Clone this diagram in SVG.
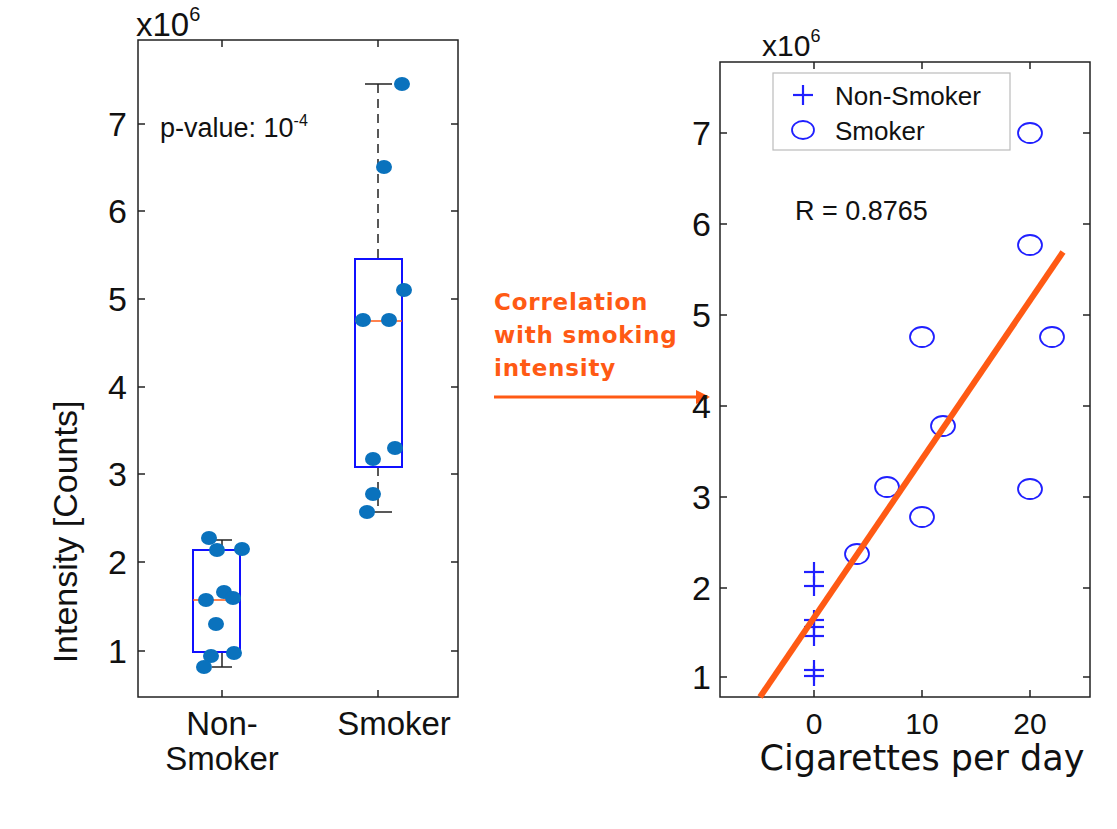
<svg xmlns="http://www.w3.org/2000/svg" width="1117" height="829" viewBox="0 0 1117 829">
<style>
.t{font-family:"Liberation Sans",Arial,sans-serif;fill:#111}
.ax{font-size:34px}
.frame{fill:none;stroke:#222;stroke-width:1.5}
.tick{stroke:#222;stroke-width:1.5}
.box{fill:none;stroke:#1010ff;stroke-width:2}
.med{stroke:#ff5a14;stroke-width:1.5}
.dot{fill:#0a72bd}
.circ{fill:none;stroke:#2020ff;stroke-width:1.8}
.plus{stroke:#2020ff;stroke-width:2.2}
.or{font-family:"DejaVu Sans",Verdana,sans-serif;font-weight:bold;font-size:23px;letter-spacing:0.8px;fill:#ff5a14}
</style>
<defs>
<marker id="ah" markerWidth="14" markerHeight="14" refX="12" refY="7" orient="auto" markerUnits="userSpaceOnUse" viewBox="0 0 14 14"><path d="M0,0 L14,7 L0,14 Z" fill="#ff5a14"/></marker>
<g id="pl"><line x1="-10" y1="0" x2="10" y2="0"/><line x1="0" y1="-10" x2="0" y2="10"/></g>
</defs>
<rect width="1117" height="829" fill="#fff"/>
<g id="left-plot">
<rect class="frame" x="138" y="40" width="320" height="657"/>
<g class="tick">
<line x1="138" y1="124" x2="145" y2="124"/><line x1="451" y1="124" x2="458" y2="124"/>
<line x1="138" y1="211" x2="145" y2="211"/><line x1="451" y1="211" x2="458" y2="211"/>
<line x1="138" y1="299" x2="145" y2="299"/><line x1="451" y1="299" x2="458" y2="299"/>
<line x1="138" y1="387" x2="145" y2="387"/><line x1="451" y1="387" x2="458" y2="387"/>
<line x1="138" y1="474" x2="145" y2="474"/><line x1="451" y1="474" x2="458" y2="474"/>
<line x1="138" y1="562" x2="145" y2="562"/><line x1="451" y1="562" x2="458" y2="562"/>
<line x1="138" y1="651" x2="145" y2="651"/><line x1="451" y1="651" x2="458" y2="651"/>
<line x1="222" y1="40" x2="222" y2="47"/><line x1="222" y1="690" x2="222" y2="697"/>
<line x1="378" y1="40" x2="378" y2="47"/><line x1="378" y1="690" x2="378" y2="697"/>
</g>
<g class="t ax" text-anchor="end">
<text x="127" y="136">7</text><text x="127" y="223">6</text><text x="127" y="311">5</text><text x="127" y="399">4</text><text x="127" y="486">3</text><text x="127" y="574">2</text><text x="127" y="663">1</text>
</g>
<text class="t" x="136" y="36" font-size="33">x10<tspan dy="-15" font-size="20">6</tspan></text>
<text class="t" x="160" y="137" font-size="27">p-value: 10<tspan dy="-11" font-size="16">-4</tspan></text>
<text class="t" font-size="34" transform="translate(77,532) rotate(-90)" text-anchor="middle">Intensity [Counts]</text>
<g class="t" font-size="33" text-anchor="middle">
<text x="222" y="735">Non-</text><text x="222" y="770">Smoker</text><text x="394" y="735">Smoker</text>
</g>
<line x1="222" y1="540" x2="222" y2="550" stroke="#222" stroke-width="1.5"/>
<line x1="212" y1="540" x2="232" y2="540" stroke="#222" stroke-width="1.5"/>
<line x1="222" y1="652" x2="222" y2="667" stroke="#222" stroke-width="1.5"/>
<line x1="212" y1="667" x2="232" y2="667" stroke="#222" stroke-width="1.5"/>
<rect class="box" x="193" y="550" width="47" height="102"/>
<line class="med" x1="193" y1="600" x2="240" y2="600"/>
<line x1="378" y1="84" x2="378" y2="259" stroke="#222" stroke-width="1.5" stroke-dasharray="9,6"/>
<line x1="365" y1="84" x2="392" y2="84" stroke="#222" stroke-width="1.5"/>
<line x1="378" y1="467" x2="378" y2="512" stroke="#222" stroke-width="1.5" stroke-dasharray="9,6"/>
<line x1="365" y1="512" x2="392" y2="512" stroke="#222" stroke-width="1.5"/>
<rect class="box" x="355" y="259" width="47" height="208"/>
<line class="med" x1="355" y1="321" x2="402" y2="321"/>
<g class="dot">
<ellipse cx="209" cy="538" rx="8" ry="7"/><ellipse cx="217" cy="550" rx="8" ry="7"/><ellipse cx="242" cy="549" rx="8" ry="7"/><ellipse cx="206" cy="600" rx="8" ry="7"/><ellipse cx="224" cy="592" rx="8" ry="7"/><ellipse cx="233" cy="598" rx="8" ry="7"/><ellipse cx="216" cy="624" rx="8" ry="7"/><ellipse cx="211" cy="656" rx="8" ry="7"/><ellipse cx="234" cy="653" rx="8" ry="7"/><ellipse cx="204" cy="667" rx="8" ry="7"/>
<ellipse cx="402" cy="84" rx="8" ry="7"/><ellipse cx="384" cy="167" rx="8" ry="7"/><ellipse cx="404" cy="290" rx="8" ry="7"/><ellipse cx="363" cy="320" rx="8" ry="7"/><ellipse cx="389" cy="320" rx="8" ry="7"/><ellipse cx="395" cy="448" rx="8" ry="7"/><ellipse cx="373" cy="459" rx="8" ry="7"/><ellipse cx="373" cy="494" rx="8" ry="7"/><ellipse cx="367" cy="512" rx="8" ry="7"/>
</g>
</g>
<g id="connectors">
<line x1="494" y1="397" x2="708" y2="397" stroke="#ff5a14" stroke-width="3" marker-end="url(#ah)"/>
<text class="or" x="494" y="310">Correlation</text>
<text class="or" x="494" y="343">with smoking</text>
<text class="or" x="494" y="376">intensity</text>
</g>
<g id="right-plot">
<rect class="frame" x="720" y="62" width="370" height="635"/>
<g class="tick">
<line x1="720" y1="133" x2="727" y2="133"/><line x1="1083" y1="133" x2="1090" y2="133"/>
<line x1="720" y1="224" x2="727" y2="224"/><line x1="1083" y1="224" x2="1090" y2="224"/>
<line x1="720" y1="315" x2="727" y2="315"/><line x1="1083" y1="315" x2="1090" y2="315"/>
<line x1="720" y1="406" x2="727" y2="406"/><line x1="1083" y1="406" x2="1090" y2="406"/>
<line x1="720" y1="497" x2="727" y2="497"/><line x1="1083" y1="497" x2="1090" y2="497"/>
<line x1="720" y1="588" x2="727" y2="588"/><line x1="1083" y1="588" x2="1090" y2="588"/>
<line x1="720" y1="677" x2="727" y2="677"/><line x1="1083" y1="677" x2="1090" y2="677"/>
<line x1="814" y1="62" x2="814" y2="69"/><line x1="814" y1="690" x2="814" y2="697"/>
<line x1="922" y1="62" x2="922" y2="69"/><line x1="922" y1="690" x2="922" y2="697"/>
<line x1="1030" y1="62" x2="1030" y2="69"/><line x1="1030" y1="690" x2="1030" y2="697"/>
</g>
<g class="t ax" text-anchor="end">
<text x="711" y="145">7</text><text x="711" y="236">6</text><text x="711" y="327">5</text><text x="711" y="418">4</text><text x="711" y="509">3</text><text x="711" y="600">2</text><text x="711" y="689">1</text>
</g>
<g class="t" font-size="30" text-anchor="middle">
<text x="814" y="734">0</text><text x="922" y="734">10</text><text x="1030" y="734">20</text>
</g>
<text class="t" x="762" y="56" font-size="30">x10<tspan dy="-14" font-size="18">6</tspan></text>
<text x="922" y="770" text-anchor="middle" font-family="DejaVu Sans,sans-serif" font-size="35" fill="#111">Cigarettes per day</text>
<rect x="773" y="73" width="237" height="77" fill="#fff" stroke="#bbb" stroke-width="1.2"/>
<use href="#pl" x="803" y="95" class="plus"/>
<ellipse class="circ" cx="803" cy="130" rx="11" ry="9"/>
<text class="t" x="835" y="105" font-size="26">Non-Smoker</text>
<text class="t" x="835" y="140" font-size="26">Smoker</text>
<text class="t" x="795" y="220" font-size="27">R = 0.8765</text>
<g class="circ">
<ellipse cx="1030" cy="133" rx="12" ry="10"/><ellipse cx="1030" cy="245" rx="12" ry="10"/><ellipse cx="922" cy="337" rx="12" ry="10"/><ellipse cx="1052" cy="337" rx="12" ry="10"/><ellipse cx="943" cy="426" rx="12" ry="10"/><ellipse cx="887" cy="487" rx="12" ry="10"/><ellipse cx="922" cy="517" rx="12" ry="10"/><ellipse cx="1030" cy="489" rx="12" ry="10"/><ellipse cx="857" cy="554" rx="12" ry="10"/>
</g>
<g class="plus">
<use href="#pl" x="814" y="572"/><use href="#pl" x="814" y="586"/><use href="#pl" x="814" y="620"/><use href="#pl" x="814" y="627"/><use href="#pl" x="814" y="636"/><use href="#pl" x="814" y="670"/><use href="#pl" x="814" y="676"/>
</g>
<line x1="760" y1="697" x2="1063" y2="252" stroke="#ff5a14" stroke-width="6"/>
</g>
</svg>
